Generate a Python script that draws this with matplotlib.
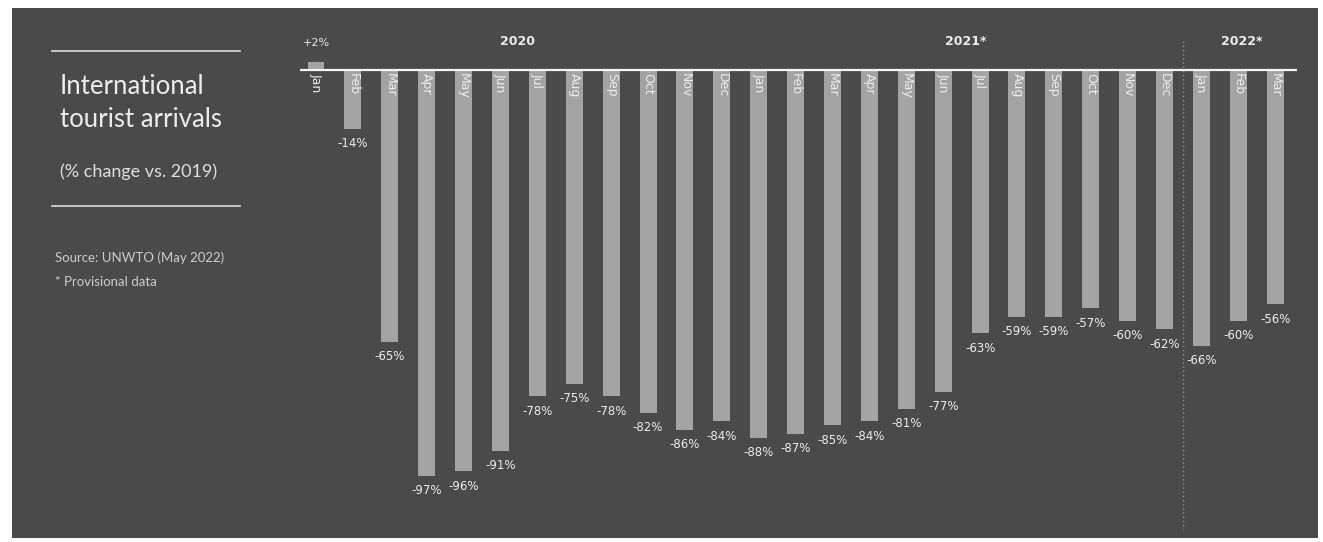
import matplotlib.pyplot as plt
from matplotlib.patches import Rectangle

# Monthly data, % change vs 2019
months = ["Jan", "Feb", "Mar", "Apr", "May", "Jun", "Jul", "Aug", "Sep", "Oct", "Nov", "Dec",
          "Jan", "Feb", "Mar", "Apr", "May", "Jun", "Jul", "Aug", "Sep", "Oct", "Nov", "Dec",
          "Jan", "Feb", "Mar"]
values = [2, -14, -65, -97, -96, -91, -78, -75, -78, -82, -86, -84,
          -88, -87, -85, -84, -81, -77, -63, -59, -59, -57, -60, -62,
          -66, -60, -56]
year_labels = ["2020", "2021*", "2022*"]
year_positions = [5.45, 17.6, 25.1]

bg = "#4a4a4a"
bar_color = "#a3a3a3"
text_color = "#ececec"

W, H = 1323, 542
fig = plt.figure(figsize=(W / 100, H / 100), dpi=100)
fig.patch.set_facecolor("white")

# dark panel
fig.add_artist(Rectangle((12 / W, 1 - 538 / H), (1318 - 12) / W, (538 - 8) / H,
                         transform=fig.transFigure, facecolor=bg, edgecolor="none", zorder=0))

# main axes (pixel layout)
left, right, top, bottom = 300, 1297, 40, 530
ax = fig.add_axes([left / W, 1 - bottom / H, (right - left) / W, (bottom - top) / H])
ax.set_facecolor("none")
ax.set_xlim(-0.434, 26.59)
ax.set_ylim(-110.0, 7.2)
ax.axis("off")

x = list(range(len(values)))
ax.bar(x, values, width=0.46, color=bar_color, zorder=2)
ax.axhline(0, color="#f4f4f4", lw=1.6, zorder=3)

# dotted separator before 2022
ax.axvline(23.5, ymin=0, ymax=1, color="#8a8a8a", lw=1, ls=(0, (1, 2)), zorder=1)

for i, (m, v) in enumerate(zip(months, values)):
    ax.text(i, -0.8, m, rotation=270, ha="center", va="top", color=text_color,
            fontsize=9, zorder=4)
    if v >= 0:
        ax.text(i, 5.2, f"+{v}%", ha="center", va="bottom", color=text_color, fontsize=8)
    else:
        ax.annotate(f"{v}%", (i, v), xytext=(0, -6), textcoords="offset points",
                    ha="center", va="top", color=text_color, fontsize=8.5)

for yl, xp in zip(year_labels, year_positions):
    ax.text(xp, 5.2, yl, ha="center", va="bottom", color=text_color, fontsize=9,
            fontweight="bold")

# left text panel
fig.add_artist(plt.Line2D([52 / W, 240 / W], [1 - 51 / H, 1 - 51 / H], color="#dcdcdc", lw=1.2))
fig.add_artist(plt.Line2D([52 / W, 240 / W], [1 - 206 / H, 1 - 206 / H], color="#dcdcdc", lw=1.2))
fig.text(60 / W, 1 - 74 / H, "International\ntourist arrivals", ha="left", va="top",
         color="#ececec", fontsize=18.5, family="Lato", linespacing=1.4)
fig.text(60 / W, 1 - 172 / H, "(% change vs. 2019)", ha="left", va="center",
         color="#dedede", fontsize=13, family="Lato")
fig.text(55 / W, 1 - 258 / H, "Source: UNWTO (May 2022)", ha="left", va="center",
         color="#cccccc", fontsize=9.5, family="Lato")
fig.text(55 / W, 1 - 282 / H, "* Provisional data", ha="left", va="center",
         color="#cccccc", fontsize=9.5, family="Lato")

fig.savefig("out.png", dpi=100, facecolor=fig.get_facecolor())
